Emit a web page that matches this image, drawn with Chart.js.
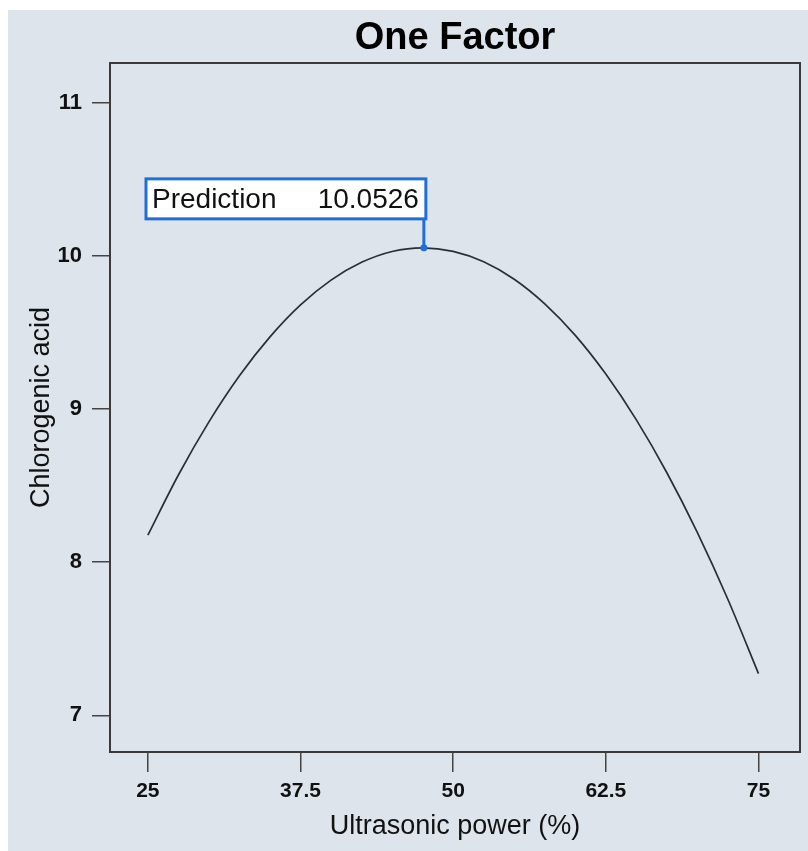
<!DOCTYPE html>
<html>
<head>
<meta charset="utf-8">
<script src="https://cdn.jsdelivr.net/npm/chart.js@4.4.1/dist/chart.umd.min.js"></script>
<style>
  html, body { margin: 0; padding: 0; background: #ffffff; }
  #wrap { width: 808px; height: 851px; }
</style>
</head>
<body>
<div id="wrap"><canvas id="c" width="808" height="851"></canvas></div>
<script>
// ---- data ----
const titleText = "One Factor";
const xTitle = "Ultrasonic power (%)";
const yTitle = "Chlorogenic acid";
const xTicks = [25, 37.5, 50, 62.5, 75];
const xTickLabels = ["25", "37.5", "50", "62.5", "75"];
const yTicks = [7, 8, 9, 10, 11];
const powerX = [25, 27.5, 30, 32.5, 35, 37.5, 40, 42.5, 45, 47.5, 50, 52.5, 55, 57.5, 60, 62.5, 65, 67.5, 70, 72.5, 75];
const acidY = [8.176, 8.569, 8.916, 9.217, 9.471, 9.680, 9.842, 9.958, 10.029, 10.053, 10.030, 9.962, 9.848, 9.687, 9.481, 9.228, 8.929, 8.584, 8.193, 7.756, 7.272];
const predX = [47.6];
const predY = [10.0526];
const predLabel = "Prediction";
const predValueText = "10.0526";

const curve = powerX.map((x, i) => ({ x: x, y: acidY[i] }));

const FONT = '"Liberation Sans", Arial, sans-serif';

const bgPlugin = {
  id: 'bg',
  beforeDraw(chart) {
    const ctx = chart.ctx;
    ctx.save();
    ctx.fillStyle = '#ffffff';
    ctx.fillRect(0, 0, chart.width, chart.height);
    ctx.fillStyle = '#dde4eb';
    ctx.fillRect(8, 10, chart.width - 8, chart.height - 10);
    ctx.restore();
  }
};

const framePlugin = {
  id: 'frame',
  afterDraw(chart) {
    const { ctx, chartArea: a, scales } = chart;
    ctx.save();
    // title
    ctx.fillStyle = '#000000';
    ctx.font = 'bold 38px ' + FONT;
    ctx.textAlign = 'center';
    ctx.textBaseline = 'middle';
    ctx.fillText(titleText, (a.left + a.right) / 2, 39);

    // frame
    ctx.strokeStyle = '#3a3a3a';
    ctx.lineWidth = 2;
    ctx.strokeRect(a.left, a.top, a.right - a.left, a.bottom - a.top);

    // prediction callout
    const px = scales.x.getPixelForValue(predX[0]);
    const py = scales.y.getPixelForValue(predY[0]);
    const boxRight = px + 2;
    const boxLeft = 146;
    const boxTop = py - 69;
    const boxBottom = py - 29;
    ctx.fillStyle = '#ffffff';
    ctx.fillRect(boxLeft, boxTop, boxRight - boxLeft, boxBottom - boxTop);
    ctx.strokeStyle = '#1f6fd6';
    ctx.lineWidth = 3;
    ctx.strokeRect(boxLeft, boxTop, boxRight - boxLeft, boxBottom - boxTop);
    ctx.beginPath();
    ctx.moveTo(px, boxBottom);
    ctx.lineTo(px, py);
    ctx.stroke();
    ctx.fillStyle = '#1f6fd6';
    ctx.beginPath();
    ctx.arc(px, py, 3.5, 0, Math.PI * 2);
    ctx.fill();
    ctx.fillStyle = '#111111';
    ctx.font = '28px ' + FONT;
    ctx.textBaseline = 'middle';
    ctx.textAlign = 'left';
    ctx.fillText(predLabel, boxLeft + 6, (boxTop + boxBottom) / 2 + 1);
    ctx.textAlign = 'right';
    ctx.fillText(predValueText, boxRight - 7, (boxTop + boxBottom) / 2 + 1);
    ctx.restore();
  }
};

new Chart(document.getElementById('c'), {
  type: 'scatter',
  data: {
    datasets: [
      {
        data: curve,
        showLine: true,
        borderColor: '#2a2e38',
        borderWidth: 1.7,
        pointRadius: 0,
        cubicInterpolationMode: 'monotone',
        fill: false
      }
    ]
  },
  options: {
    responsive: false,
    animation: false,
    layout: { padding: { top: 63, right: 8, left: 0, bottom: 0 } },
    plugins: {
      legend: { display: false },
      tooltip: { enabled: false },
      title: { display: false }
    },
    scales: {
      x: {
        type: 'linear',
        min: 21.9,
        max: 78.4,
        afterBuildTicks(scale) { scale.ticks = xTicks.map(v => ({ value: v })); },
        afterFit(scale) { scale.height = 99; },
        ticks: {
          color: '#111111',
          padding: 7,
          maxRotation: 0,
          autoSkip: false,
          font: { family: FONT, size: 21, weight: 'bold' },
          callback(v) { const i = xTicks.indexOf(v); return i >= 0 ? xTickLabels[i] : ''; }
        },
        grid: { drawOnChartArea: false, drawTicks: true, tickLength: 20, color: '#444444', lineWidth: 1.5 },
        border: { display: false },
        title: {
          display: true,
          text: xTitle,
          color: '#111111',
          font: { family: FONT, size: 27 },
          padding: { top: 4, bottom: 8 }
        }
      },
      y: {
        type: 'linear',
        min: 6.76,
        max: 11.26,
        afterBuildTicks(scale) { scale.ticks = yTicks.map(v => ({ value: v })); },
        afterFit(scale) { scale.width = 110; },
        ticks: {
          color: '#111111',
          padding: 10,
          font: { family: FONT, size: 22, weight: 'bold' },
          callback(v) { return String(v); }
        },
        grid: { drawOnChartArea: false, drawTicks: true, tickLength: 18, color: '#444444', lineWidth: 1.5 },
        border: { display: false },
        title: {
          display: true,
          text: yTitle,
          color: '#111111',
          font: { family: FONT, size: 27 },
          padding: { top: 25, bottom: 0 }
        }
      }
    }
  },
  plugins: [bgPlugin, framePlugin]
});
</script>
</body>
</html>
